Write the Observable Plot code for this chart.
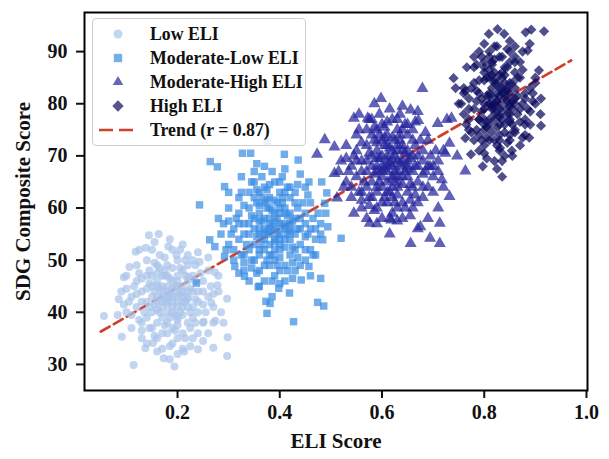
<!DOCTYPE html>
<html>
<head>
<meta charset="utf-8">
<script src="https://cdn.jsdelivr.net/npm/d3@7"></script>
<script src="https://cdn.jsdelivr.net/npm/@observablehq/plot@0.6"></script>
<style>
  html, body { margin: 0; padding: 0; background: #fff; }
  #wrap { position: relative; width: 609px; height: 459px; font-family: "Liberation Serif", "Times New Roman", serif; }
  #legend { position: absolute; left: 92px; top: 18px; width: 214px; height: 128px; box-sizing: border-box;
    background: rgba(255,255,255,0.85); border: 1px solid #cfcfcf; border-radius: 4px; }
  .row { position: absolute; left: 0; height: 24px; }
  .row svg { position: absolute; left: 4px; top: 0; }
  .row span { position: absolute; left: 57px; white-space: nowrap; font-weight: bold; font-size: 17.8px; color: #111; line-height: 24px; }
</style>
</head>
<body>
<div id="wrap"><div id="chart"></div><div id="legend"></div></div>
<script>
const groups = ["Low ELI", "Moderate-Low ELI", "Moderate-High ELI", "High ELI"];
const symbols = ["circle", "square", "triangle", "diamond2"];
const colors = ["#a9c4ea", "#3a8de3", "#24249c", "#0b0b5e"];
const xTicks = [0.2, 0.4, 0.6, 0.8, 1.0];
const yTicks = [30, 40, 50, 60, 70, 80, 90];
const xLabel = "ELI Score";
const yLabel = "SDG Composite Score";
const trendLabel = "Trend (r = 0.87)";
const trendX = [0.05, 0.97];
const trendY = [36.3, 88.3];

const lowELI = [
[0.056,39.3],[0.114,29.9],[0.194,29.6],[0.173,31.2],[0.297,31.6],[0.298,35.2],[0.270,33.2],[0.274,38.4],[0.297,42.6],[0.266,41.9],
[0.278,45.2],[0.273,47.7],[0.163,55.0],[0.144,54.8],[0.138,52.4],[0.118,51.6],[0.106,48.7],[0.095,46.7],[0.083,39.5],[0.091,35.3],
[0.137,33.1],[0.152,34.1],[0.213,32.5],[0.240,32.9],[0.251,38.2],[0.243,49.7],[0.198,51.0],[0.182,52.6],[0.221,46.8],
[0.19,43],[0.18,44],[0.20,42],[0.17,41],[0.21,45],[0.16,43],[0.22,43],[0.19,46],[0.18,40],[0.20,39],
[0.15,45],[0.23,41],[0.17,47],[0.21,48],[0.14,42],[0.24,44],[0.19,37],[0.16,38],[0.22,38],[0.18,49],
[0.13,44],[0.25,46],[0.15,40],[0.23,47],[0.20,50],[0.17,36],[0.21,36],[0.14,47],[0.24,40],[0.12,41],
[0.26,43],[0.16,49],[0.19,34],[0.22,51],[0.13,38],[0.25,38],[0.18,42],[0.20,44],[0.17,45],[0.21,41],
[0.19,40],[0.18,47],[0.20,47],[0.16,42],[0.22,46],[0.15,37],[0.23,35],[0.14,50],[0.12,46],[0.11,43],
[0.27,41],[0.26,48],[0.10,40],[0.11,37],[0.13,35],[0.17,33],[0.20,35],[0.24,36],[0.28,44],[0.27,38],
[0.15,52],[0.19,52],[0.23,50],[0.12,49],[0.09,44],[0.10,47],[0.16,35],[0.21,33],[0.18,38],[0.20,41],
[0.185,43.5],[0.195,45],[0.175,42.5],[0.205,43.5],[0.165,44.5],[0.215,42],[0.19,48.5],[0.155,41.5],[0.225,44.5],[0.17,39],
[0.21,39.5],[0.145,45.5],[0.235,42.5],[0.18,36],[0.2,37.5],[0.16,47.5],[0.22,49],[0.13,42],[0.25,41.5],[0.175,50.5],
[0.14,39],[0.15,43],[0.16,46],[0.17,43],[0.18,45],[0.19,41],[0.20,46],[0.21,43],[0.22,41],[0.23,44],
[0.145,41],[0.155,44],[0.165,40],[0.175,47],[0.185,39],[0.195,43],[0.205,40],[0.215,47],[0.225,40],[0.235,46],
[0.14,44.5],[0.15,47],[0.16,40.5],[0.17,44],[0.18,41.5],[0.19,44.5],[0.20,38.5],[0.21,42],[0.22,44],[0.23,39],
[0.13,46.5],[0.24,42],[0.12,43.5],[0.25,44],[0.135,40],[0.245,47.5],[0.125,38.5],[0.255,40],[0.165,51],[0.205,52],
[0.185,33.5],[0.155,35.5],[0.215,35],[0.175,37.5],[0.195,36.5],[0.225,37],[0.145,37],[0.235,38],[0.265,45],[0.115,45],
[0.18,43],[0.19,42],[0.2,45],[0.17,42],[0.21,44],[0.16,45],[0.22,42.5],[0.185,46.5],[0.195,39.5],[0.175,48],
[0.205,48.5],[0.165,48.5],[0.215,50],[0.155,49.5],[0.145,48],[0.235,49],[0.125,47.5],[0.105,42],[0.095,41.5],[0.285,40],
[0.26,36],[0.27,43.5],[0.25,34.5],[0.14,34],[0.16,32.5],[0.2,32],[0.225,33.5],[0.185,31],[0.13,36.5],[0.11,39.5],
[0.085,42.5],[0.1,44.5],[0.125,52],[0.155,53.5],[0.185,54],[0.21,53],[0.24,51.5],[0.26,50.5],[0.28,47],[0.29,38]
];

const modLowELI = [
[0.243,60.6],[0.264,68.9],[0.278,67.9],[0.263,53.9],[0.273,52.6],[0.292,64.1],[0.292,50.7],[0.327,70.5],[0.343,70.5],[0.375,72.7],
[0.409,70.3],[0.436,69.2],[0.457,65.0],[0.482,65.0],[0.492,62.9],[0.488,60.9],[0.494,56.4],[0.484,53.9],[0.520,54.2],[0.480,46.5],
[0.474,41.9],[0.486,41.2],[0.427,38.2],[0.419,43.7],[0.398,44.6],[0.373,42.1],[0.381,41.7],[0.375,39.8],[0.358,44.9],[0.320,47.5],
[0.331,46.9],[0.312,48.8],[0.457,48.8],[0.465,51.0],[0.442,46.2],[0.237,45.6],
[0.39,56],[0.38,57],[0.40,55],[0.37,58],[0.41,54],[0.36,56],[0.42,57],[0.39,59],[0.38,53],[0.40,52],
[0.35,58],[0.43,55],[0.37,61],[0.41,60],[0.34,55],[0.44,58],[0.39,50],[0.36,52],[0.42,51],[0.38,62],
[0.33,57],[0.45,59],[0.35,53],[0.43,61],[0.40,63],[0.37,49],[0.41,49],[0.34,60],[0.44,53],[0.32,54],
[0.46,56],[0.36,63],[0.39,47],[0.42,64],[0.33,51],[0.45,52],[0.38,55],[0.40,57],[0.37,56],[0.41,56],
[0.39,54],[0.38,60],[0.40,60],[0.36,55],[0.42,59],[0.35,50],[0.43,48],[0.34,63],[0.32,59],[0.31,56],
[0.47,54],[0.46,61],[0.30,53],[0.31,50],[0.33,48],[0.37,46],[0.40,48],[0.44,49],[0.48,57],[0.47,51],
[0.35,65],[0.39,65],[0.43,63],[0.32,62],[0.29,57],[0.30,60],[0.36,48],[0.41,46],[0.38,51],[0.40,54],
[0.385,56.5],[0.395,58],[0.375,55.5],[0.405,56.5],[0.365,57.5],[0.415,55],[0.39,61.5],[0.355,54.5],[0.425,57.5],[0.37,52],
[0.41,52.5],[0.345,58.5],[0.435,56],[0.38,49],[0.40,50.5],[0.36,60.5],[0.42,62],[0.33,55],[0.45,54.5],[0.375,63.5],
[0.35,67],[0.37,68],[0.30,63],[0.28,58],[0.46,47],[0.45,64],
[0.34,52],[0.35,56],[0.36,59],[0.37,54],[0.38,58],[0.39,52],[0.40,59],[0.41,57],[0.42,54],[0.43,58],
[0.345,50],[0.355,61],[0.365,53],[0.375,60],[0.385,51],[0.395,55],[0.405,62],[0.415,58.5],[0.425,52.5],[0.435,60],
[0.34,57],[0.35,62],[0.36,51],[0.37,64],[0.38,64.5],[0.39,53.5],[0.40,65],[0.41,63],[0.42,55.5],[0.43,52],
[0.33,60.5],[0.44,56],[0.32,57],[0.45,57],[0.335,53],[0.445,61],[0.325,51],[0.455,55],[0.365,66],[0.405,66],
[0.385,46],[0.355,47.5],[0.415,48],[0.375,50],[0.395,49],[0.425,49.5],[0.345,48.5],[0.435,50.5],[0.465,58],[0.315,58],
[0.38,56],[0.39,57.5],[0.40,53],[0.37,55],[0.41,59],[0.36,57.5],[0.42,56],[0.385,59.5],[0.395,61],[0.375,61.5],
[0.405,61],[0.365,62],[0.415,64],[0.355,63.5],[0.345,65],[0.435,64.5],[0.325,63],[0.305,55],[0.295,52],[0.475,59],
[0.46,52],[0.47,56],[0.45,50],[0.34,46],[0.36,45],[0.40,45.5],[0.425,46.5],[0.385,43],[0.33,49.5],[0.31,52],
[0.285,55],[0.30,57.5],[0.325,66],[0.355,68.5],[0.385,67],[0.41,67.5],[0.44,66.5],[0.455,62.5],[0.48,55],[0.49,59]
];

const modHighELI = [
[0.473,70.3],[0.488,73.1],[0.507,71.7],[0.507,66.6],[0.512,61.9],[0.545,77.2],[0.572,77.2],[0.598,81.0],[0.679,82.9],[0.656,78.8],
[0.671,76.8],[0.709,76.2],[0.736,77.2],[0.732,72.4],[0.724,70.5],[0.732,62.2],[0.713,57.1],[0.713,53.2],[0.694,54.2],[0.656,53.2],
[0.675,56.4],[0.576,57.1],[0.545,59.0],[0.618,57.7],[0.694,67.9],[0.717,65.4],[0.747,70.0],[0.763,67.1],[0.727,77.0],
[0.62,68],[0.61,69],[0.63,67],[0.60,70],[0.64,66],[0.59,68],[0.65,69],[0.62,71],[0.61,65],[0.63,64],
[0.58,70],[0.66,67],[0.60,73],[0.64,72],[0.57,67],[0.67,70],[0.62,62],[0.59,64],[0.65,63],[0.61,74],
[0.56,69],[0.68,71],[0.58,65],[0.66,73],[0.63,75],[0.60,61],[0.64,61],[0.57,72],[0.67,65],[0.55,66],
[0.69,68],[0.59,75],[0.62,59],[0.65,76],[0.56,63],[0.68,64],[0.61,67],[0.63,69],[0.60,68],[0.64,68],
[0.62,66],[0.61,72],[0.63,72],[0.59,67],[0.65,71],[0.58,62],[0.66,60],[0.57,75],[0.55,71],[0.54,68],
[0.70,66],[0.69,73],[0.53,65],[0.54,62],[0.56,60],[0.60,58],[0.63,60],[0.67,61],[0.71,69],[0.70,63],
[0.58,77],[0.62,77],[0.66,75],[0.55,74],[0.52,69],[0.53,72],[0.59,60],[0.64,58],[0.61,63],[0.63,66],
[0.615,68.5],[0.625,70],[0.605,67.5],[0.635,68.5],[0.595,69.5],[0.645,67],[0.62,73.5],[0.585,66.5],[0.655,69.5],[0.60,64],
[0.64,64.5],[0.575,70.5],[0.665,68],[0.61,61],[0.63,62.5],[0.59,72.5],[0.65,74],[0.56,67],[0.68,66.5],[0.605,75.5],
[0.72,64],[0.71,60],[0.69,58],[0.67,56],
[0.57,64],[0.58,68],[0.59,71],[0.60,66],[0.61,70],[0.62,64],[0.63,71],[0.64,69],[0.65,66],[0.66,70],
[0.575,62],[0.585,73],[0.595,65],[0.605,72],[0.615,63],[0.625,67],[0.635,74],[0.645,70.5],[0.655,64.5],[0.665,72],
[0.57,69],[0.58,74],[0.59,63],[0.60,76],[0.61,76.5],[0.62,65.5],[0.63,77],[0.64,75],[0.65,67.5],[0.66,64],
[0.56,72.5],[0.67,68],[0.55,69],[0.68,69],[0.565,65],[0.675,73],[0.555,63],[0.685,67],[0.595,78],[0.635,78],
[0.615,58],[0.585,59.5],[0.645,60],[0.605,62],[0.625,61],[0.655,61.5],[0.575,60.5],[0.665,62.5],[0.695,70],[0.545,70],
[0.61,68],[0.62,69.5],[0.63,65],[0.60,67],[0.64,71],[0.59,69.5],[0.65,68],[0.615,71.5],[0.625,73],[0.605,73.5],
[0.635,73],[0.595,74],[0.645,76],[0.585,75.5],[0.575,77],[0.665,76.5],[0.555,75],[0.535,67],[0.525,64],[0.705,71],
[0.69,64],[0.70,68],[0.68,62],[0.57,58],[0.59,57],[0.63,57.5],[0.655,58.5],[0.615,55],[0.56,61.5],[0.54,64],
[0.515,67],[0.53,69.5],[0.555,78],[0.585,80],[0.615,79],[0.64,79.5],[0.67,78.5],[0.685,74.5],[0.71,67],[0.72,71]
];

const highELI = [
[0.809,93.4],[0.826,94.3],[0.839,93.4],[0.881,93.7],[0.892,94.2],[0.917,93.9],[0.889,91.5],[0.885,90.2],[0.740,84.9],[0.744,83.0],
[0.763,82.4],[0.763,73.4],[0.774,70.3],[0.797,68.0],[0.835,66.0],[0.831,71.5],[0.854,71.0],[0.888,73.5],[0.911,75.8],[0.911,81.0],
[0.907,86.4],[0.766,87.0],
[0.83,80],[0.82,81],[0.84,79],[0.81,82],[0.85,78],[0.80,80],[0.86,81],[0.83,83],[0.82,77],[0.84,76],
[0.79,82],[0.87,79],[0.81,85],[0.85,84],[0.78,79],[0.88,82],[0.83,74],[0.80,76],[0.86,75],[0.82,86],
[0.77,81],[0.89,83],[0.79,77],[0.87,85],[0.84,87],[0.81,73],[0.85,73],[0.78,84],[0.88,77],[0.76,78],
[0.90,80],[0.80,87],[0.83,71],[0.86,88],[0.77,75],[0.89,76],[0.82,79],[0.84,81],[0.81,80],[0.85,80],
[0.83,78],[0.82,84],[0.84,84],[0.80,79],[0.86,83],[0.79,74],[0.87,72],[0.78,87],[0.76,83],[0.75,80],
[0.91,78],[0.90,85],[0.83,89],[0.81,89],[0.85,90],[0.80,72],[0.84,70],[0.88,74],[0.82,69],[0.87,88],
[0.825,80.5],[0.835,82],[0.815,79.5],[0.845,80.5],[0.805,81.5],[0.855,79],[0.83,85.5],[0.795,78.5],[0.865,81.5],[0.81,76],
[0.85,76.5],[0.785,82.5],[0.875,80],[0.82,73],[0.84,74.5],[0.80,84.5],[0.86,86],[0.77,79],[0.89,78.5],[0.815,87.5],
[0.82,91],[0.86,91],[0.79,90],[0.80,70.5],
[0.80,77],[0.81,80],[0.815,83],[0.82,78],[0.825,82],[0.83,76],[0.835,83],[0.84,82],[0.845,78],[0.85,82],
[0.8,75],[0.805,85],[0.81,77],[0.82,84.5],[0.825,75.5],[0.83,79],[0.835,86],[0.845,83],[0.85,77],[0.855,84],
[0.795,81],[0.80,86],[0.805,75.5],[0.815,88],[0.82,88.5],[0.83,77.5],[0.835,89],[0.845,87],[0.85,79.5],[0.855,76],
[0.79,84.5],[0.86,80],[0.785,80.5],[0.865,78],[0.79,77],[0.865,85],[0.785,75],[0.87,76.5],[0.81,90],[0.845,90.5],
[0.825,72],[0.805,73.5],[0.845,72.5],[0.815,74.5],[0.83,73],[0.85,74],[0.795,73],[0.86,74.5],[0.88,81],[0.775,83],
[0.82,80],[0.83,81.5],[0.835,77],[0.815,79],[0.845,82.5],[0.81,81.5],[0.855,80.5],[0.825,84],[0.835,85],[0.815,85.5],
[0.84,85.5],[0.81,86.5],[0.85,88],[0.8,88],[0.795,89],[0.86,89],[0.785,87.5],[0.77,77],[0.765,76],[0.895,80.5],
[0.88,76],[0.885,79],[0.875,73.5],[0.79,71],[0.805,69.5],[0.835,69],[0.855,70],[0.825,67.5],[0.78,73],[0.775,74.5],
[0.755,80],[0.76,82],[0.78,89],[0.8,91.5],[0.825,91],[0.85,92],[0.875,90],[0.875,86.5],[0.895,82],[0.9,84]
];

const series = [lowELI, modLowELI, modHighELI, highELI];
const sizes = [4.0, 4.2, 4.5, 4.6];
const trend = trendX.map((x, i) => ({x, y: trendY[i]}));

const font = "'Liberation Serif', 'Times New Roman', serif";

const marks = [
  Plot.line(trend, {x: "x", y: "y", stroke: "#d0402b", strokeWidth: 2.8, strokeDasharray: "10,5"}),
  ...series.map((pts, i) => Plot.dot(pts, {
    x: d => d[0], y: d => d[1], symbol: () => symbols[i], r: sizes[i],
    fill: colors[i], fillOpacity: 0.72, stroke: "none"
  })),
  Plot.axisX({ticks: xTicks, tickFormat: d3.format(".1f"), tickSize: 8, tickPadding: 6, strokeWidth: 2,
    fontSize: 20, label: null}),
  Plot.axisY({ticks: yTicks, tickSize: 8, tickPadding: 9, strokeWidth: 2, fontSize: 20, label: null}),
  Plot.text([xLabel], {text: d => d, frameAnchor: "bottom", dy: 51, fontSize: 21, lineAnchor: "middle", textAnchor: "middle"}),
  Plot.text([yLabel], {text: d => d, frameAnchor: "left", dx: -61, rotate: -90, fontSize: 21, lineAnchor: "middle", textAnchor: "middle"}),
  Plot.frame({stroke: "#000", strokeWidth: 2})
];

const chart = Plot.plot({
  width: 609, height: 459,
  marginTop: 12, marginBottom: 69, marginLeft: 84, marginRight: 22,
  x: {domain: [0.018, 1.002]},
  y: {domain: [25.0, 97.5]},
  symbol: {type: "identity"},
  style: {fontFamily: font, fontWeight: "bold", fontSize: "20px", color: "#111", background: "#fff"},
  marks
});
document.getElementById("chart").appendChild(chart);

// legend
const legend = document.getElementById("legend");
const rowsY = [3, 27, 51, 75, 99];
const symMap = {circle: d3.symbolCircle, square: d3.symbolSquare, triangle: d3.symbolTriangle2, diamond2: d3.symbolDiamond2};
groups.forEach((g, i) => {
  const row = document.createElement("div");
  row.className = "row";
  row.style.top = rowsY[i] + "px";
  const s = d3.create("svg").attr("width", 40).attr("height", 24);
  s.append("path").attr("d", d3.symbol(symMap[symbols[i]], Math.PI * (sizes[i] + 0.5) ** 2)())
    .attr("transform", "translate(21,12)").attr("fill", colors[i]).attr("fill-opacity", 0.7);
  row.appendChild(s.node());
  const t = document.createElement("span");
  t.textContent = g;
  row.appendChild(t);
  legend.appendChild(row);
});
{
  const row = document.createElement("div");
  row.className = "row";
  row.style.top = rowsY[4] + "px";
  const s = d3.create("svg").attr("width", 46).attr("height", 24);
  s.append("line").attr("x1", 2).attr("x2", 42).attr("y1", 12).attr("y2", 12)
    .attr("stroke", "#d0402b").attr("stroke-width", 2.6).attr("stroke-dasharray", "14,6");
  row.appendChild(s.node());
  const t = document.createElement("span");
  t.textContent = trendLabel;
  row.appendChild(t);
  legend.appendChild(row);
}
</script>
</body>
</html>
